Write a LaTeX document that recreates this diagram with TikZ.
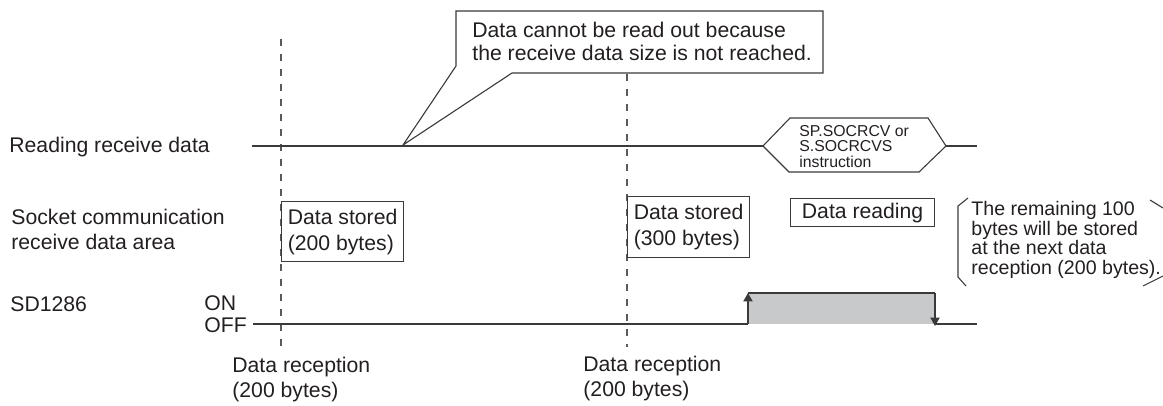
\documentclass[tikz,border=0pt]{standalone}
\usepackage{fontspec}
\setmainfont{Liberation Sans}
\usetikzlibrary{arrows.meta, positioning}
\definecolor{inkgray}{HTML}{231F20}
\definecolor{linegray}{HTML}{3A3A3A}
\definecolor{dashgray}{HTML}{5A5A5A}
\definecolor{fillgray}{HTML}{C8C9CA}

\begin{document}
\begin{tikzpicture}[x=0.5pt, y=-0.5pt,
    lbl/.style     = {anchor=west, inner sep=0pt, align=left, text=inkgray,
                      font=\fontsize{10.6}{12.8}\selectfont},
    databox/.style = {draw=linegray, line width=0.6pt, anchor=north west,
                      inner xsep=2pt, inner ysep=0pt, align=left, text=inkgray,
                      font=\fontsize{10.6}{13}\selectfont},
    memo/.style    = {anchor=west, inner sep=0pt, align=left, text=inkgray,
                      font=\fontsize{9.8}{9.75}\selectfont},
    small/.style   = {anchor=west, inner sep=0pt, align=left, text=inkgray,
                      font=\fontsize{7.9}{7.9}\selectfont},
    timeline/.style= {draw=linegray, line width=0.8pt},
    thin/.style    = {draw=linegray, line width=0.55pt},
    marker/.style  = {draw=dashgray, line width=0.9pt, dash pattern=on 3.5pt off 4pt},
    edge/.style    = {draw=linegray, line width=0.7pt,
                      -{Triangle[length=4.2pt, width=4.6pt]}}
  ]
  \useasboundingbox (0,0) rectangle (1163,406);

  % -- row titles ----------------------------------------------------------
  \node[lbl] (rowread) at (9,147)   {Reading receive data};
  \node[lbl] (rowarea) at (11,229.5){Socket communication\\receive data area};
  \node[lbl] (rowsd)   at (10,304)  {SD1286};
  \node[lbl] (on)      at (204,303) {ON};
  \node[lbl] (off)     at (204,325) {OFF};

  % -- reception markers ---------------------------------------------------
  \coordinate (mk1top) at (281,39);
  \coordinate (mk1bot) at (281,350);
  \coordinate (mk2top) at (627,74);
  \coordinate (mk2bot) at (627,347);
  \draw[marker] (mk1top) -- (mk1bot);
  \draw[marker] (mk2top) -- (mk2bot);
  \node[lbl] (recv1) at (232,379.5) {Data reception\\(200 bytes)};
  \node[lbl] (recv2) at (583,378.5) {Data reception\\(200 bytes)};

  % -- reading receive data ------------------------------------------------
  \coordinate (rdstart) at (252,146);
  \coordinate (hexw)    at (763,146);
  \coordinate (hexe)    at (946,146);
  \coordinate (rdend)   at (977,146);
  \draw[timeline] (rdstart) -- (hexw);
  \draw[timeline, line width=1.2pt] (577,146) -- (600,146);
  \draw[thin] (hexw) -- (790,118) -- (928,118) -- (hexe)
              -- (919,172) -- (789,172) -- cycle;
  \draw[timeline] (hexe) -- (rdend);
  \node[small] (instr) at (799,146.5) {SP.SOCRCV or\\S.SOCRCVS\\instruction};

  % -- callout -------------------------------------------------------------
  \coordinate (tip) at (403,145);
  \draw[thin, fill=white] (456,11) -- (823,11) -- (823,73) -- (512,73)
                          -- (tip) -- (456,66) -- cycle;
  \node[lbl, font=\fontsize{10.6}{11.6}\selectfont] (why) at (472,41.5)
    {Data cannot be read out because\\the receive data size is not reached.};

  % -- receive data area ---------------------------------------------------
  \node[databox, minimum width=61pt, minimum height=30pt]
    (store1) at (281,201) {Data stored\\(200 bytes)};
  \node[databox, minimum width=61pt, minimum height=30.5pt]
    (store2) at (627,196) {Data stored\\(300 bytes)};
  \node[databox, minimum width=72pt, minimum height=14pt]
    (reading) at (790,198) {Data reading};

  % -- note with brackets --------------------------------------------------
  \draw[thin] (968,198) -- (958,206) -- (958,277) -- (966,286);
  \draw[thin] (1150,200) -- (1163,208);
  \draw[thin] (1143,286) -- (1163,276);
  \node[memo] (note) at (971,240)
    {The remaining 100\\bytes will be stored\\at the next data\\reception (200 bytes).};

  % -- SD1286 --------------------------------------------------------------
  \coordinate (offstart) at (253,324);
  \coordinate (rise)     at (748,324);
  \coordinate (risetop)  at (748,293);
  \coordinate (falltop)  at (935,293);
  \coordinate (fall)     at (935,324);
  \coordinate (offend)   at (977,324);
  \fill[fillgray] (risetop) rectangle (fall);
  \draw[timeline] (offstart) -- (rise);
  \draw[edge] (rise) -- (risetop);
  \draw[timeline] (risetop) -- (falltop);
  \draw[edge] (falltop) -- ([yshift=-1pt]fall);
  \draw[timeline] (fall) -- (offend);

\end{tikzpicture}
\end{document}
